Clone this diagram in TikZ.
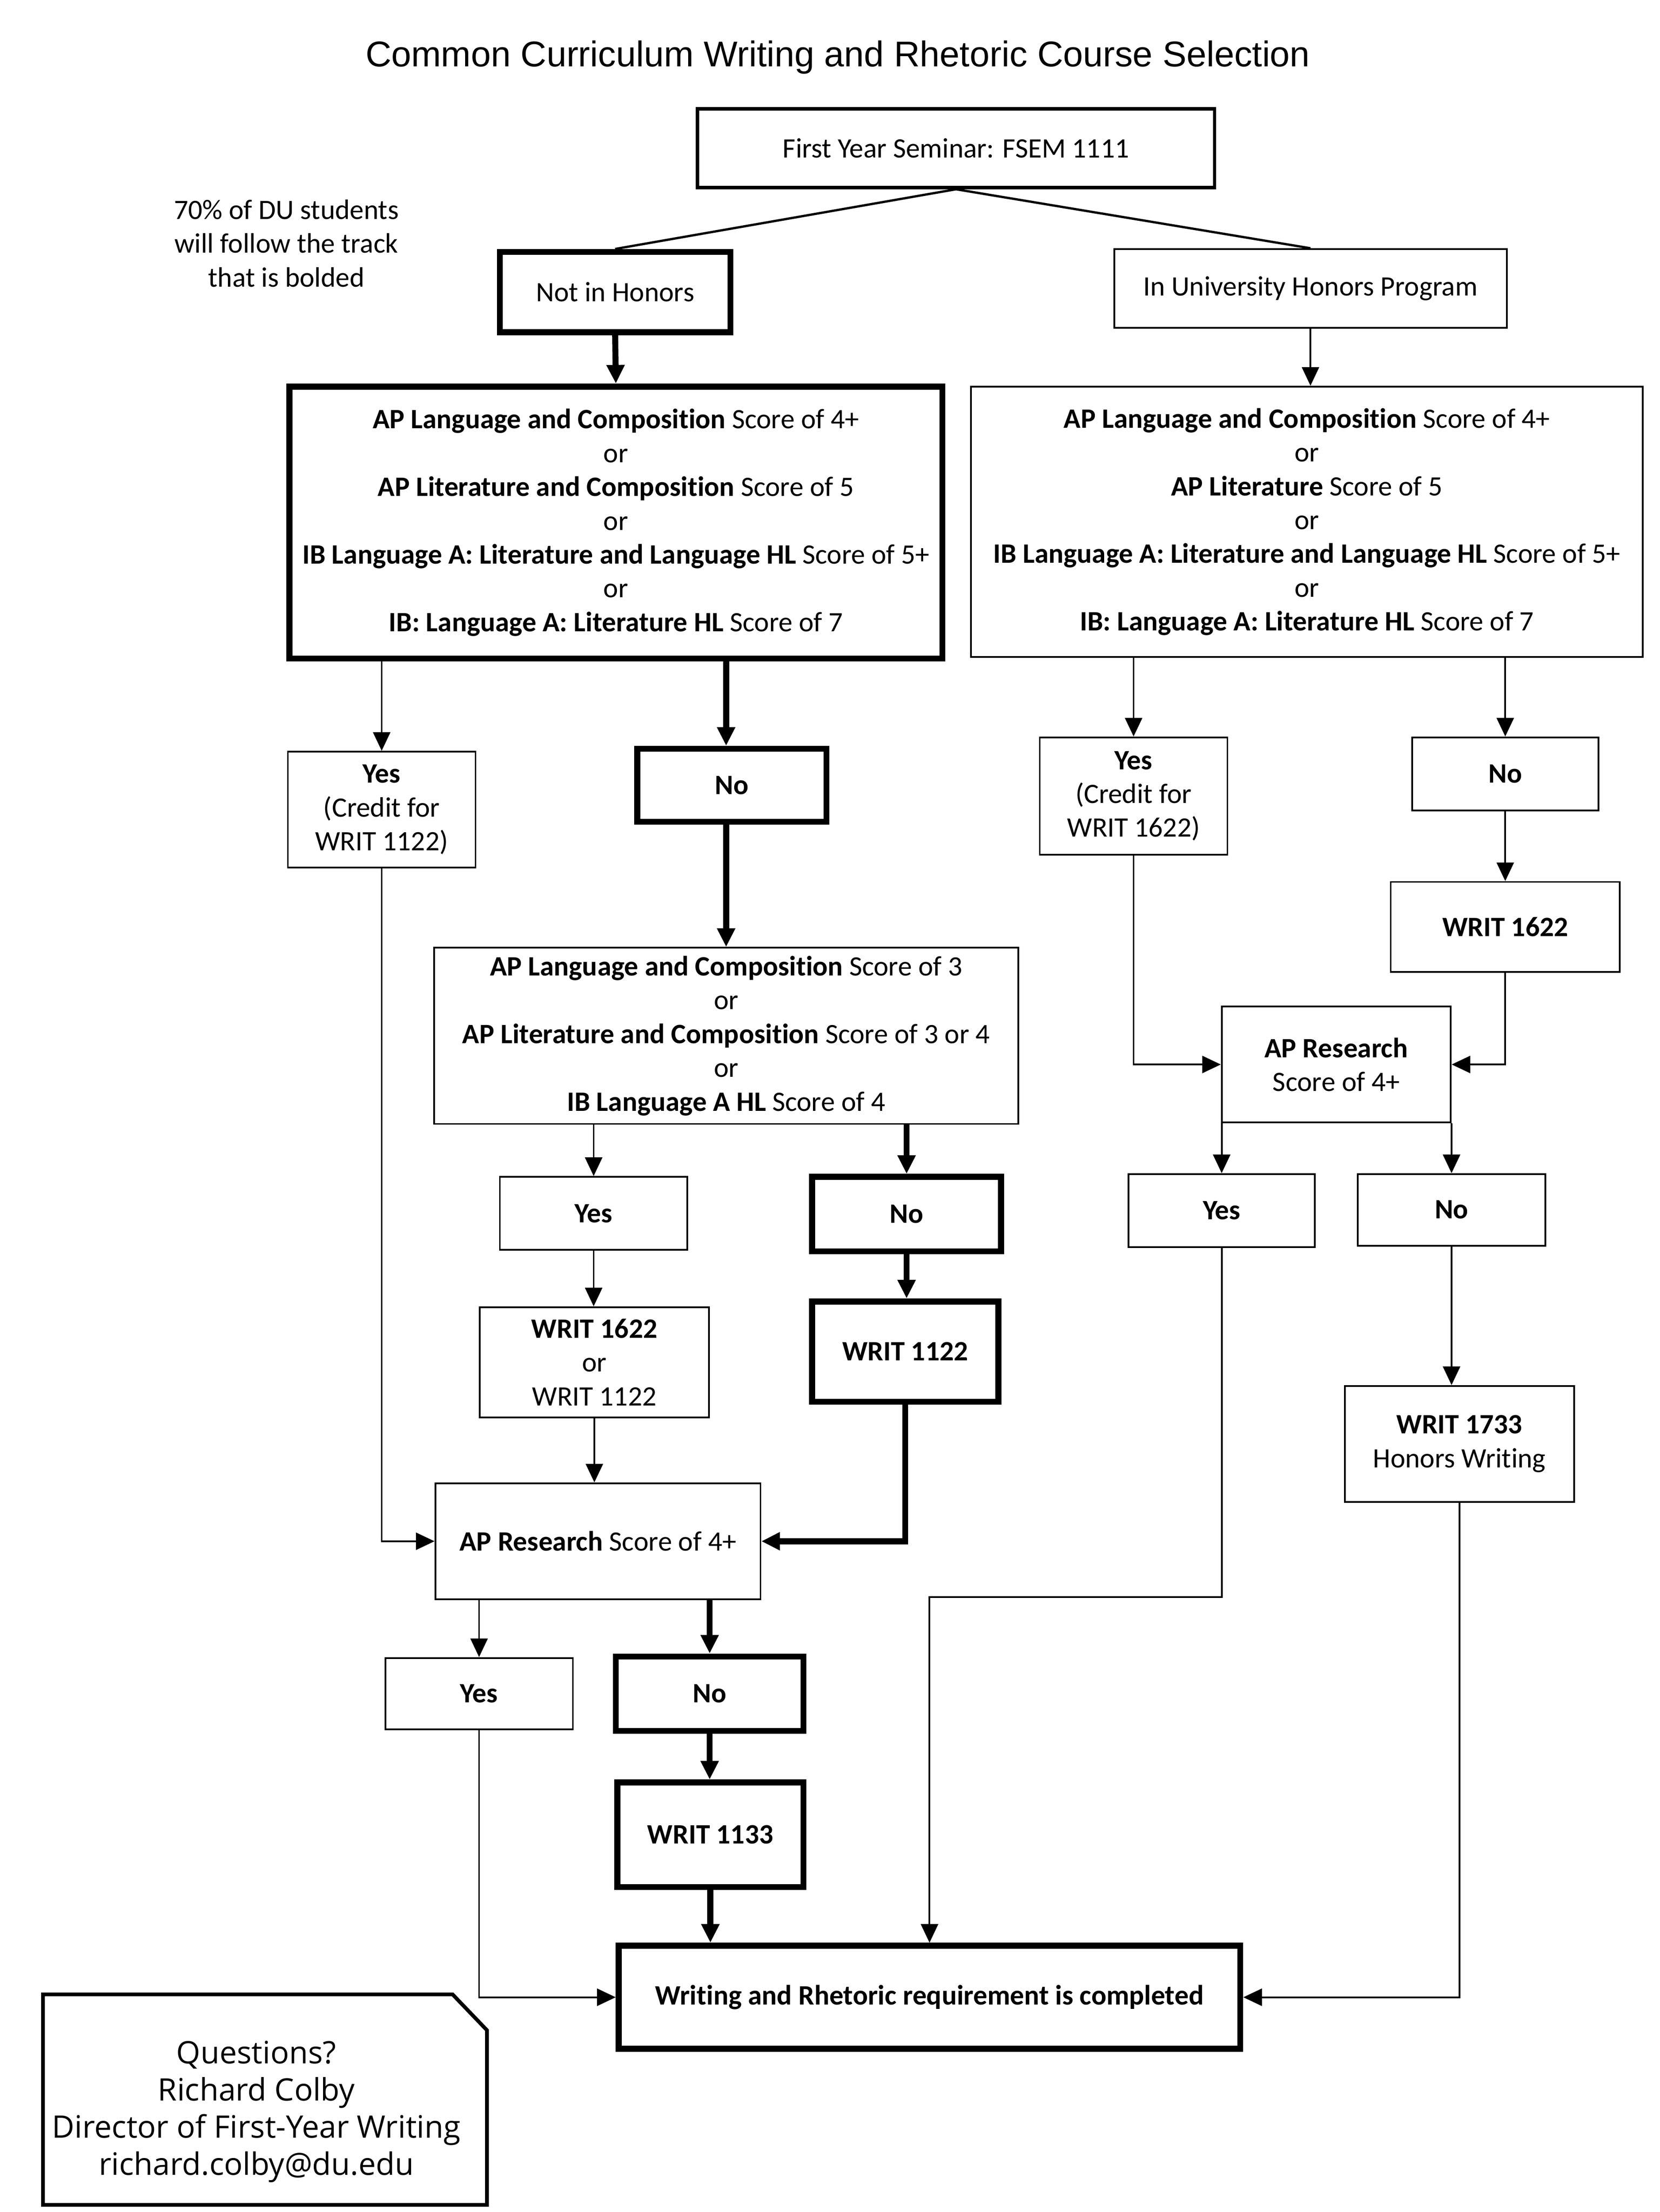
\documentclass[tikz,border=0pt]{standalone}
\usepackage{fontspec}
\setmainfont{Carlito}[Ligatures=NoCommon]
\newfontfamily\titlefont{Liberation Sans}
\newfontfamily\askfont{Open Sans}
\usetikzlibrary{arrows.meta}
\tikzset{
  sz/.style 2 args={minimum width=#1*0.5pt, minimum height=#2*0.5pt},
  box/.style={draw, line width=0.6pt, align=center, inner sep=1pt, font=\fontsize{9.8}{11.8}\selectfont},
  boldbox/.style={box, line width=2.1pt},
  flow/.style={line width=0.6pt, -{Triangle[length=6.5pt,width=6pt]}},
  heavyflow/.style={line width=2.1pt, -{Triangle[length=6.5pt,width=6pt]}},
}

\begin{document}
\begin{tikzpicture}[x=0.5pt, y=-0.5pt]
    \fill[white] (0,0) rectangle (1159,1545);
    \node[font=\titlefont\fontsize{12.5}{14}\selectfont] (title) at (585,40) {Common Curriculum Writing and Rhetoric Course Selection};
    \node[align=center, font=\fontsize{9.8}{11.8}\selectfont] (note) at (200,170) {70\% of DU students\\will follow the track\\that is bolded};

    % top of the tree
    \node[box, line width=1.2pt, sz={361}{55}] (fsem)    at (667.5,103.5) {First Year Seminar: FSEM 1111};
    \node[boldbox, sz={161}{56}]               (nothon)  at (429.5,204)   {Not in Honors};
    \node[box, sz={274}{55}]                   (honors)  at (915,201.5)   {In University Honors Program};

    % left track
    \node[boldbox, sz={456}{190}] (apl) at (430,365) {\textbf{AP Language and Composition} Score of 4+\\or\\\textbf{AP Literature and Composition} Score of 5\\or\\\textbf{IB Language A: Literature and Language HL} Score of 5+\\or\\\textbf{IB: Language A: Literature HL} Score of 7};
    \node[box, sz={131}{81}]      (yesl)   at (266.5,565.5) {\textbf{Yes}\\(Credit for\\WRIT 1122)};
    \node[boldbox, sz={132}{51}]  (nol)    at (511,548.5)   {\textbf{No}};
    \node[box, sz={408}{123}]     (apmid)  at (507,723.5)   {\textbf{AP Language and Composition} Score of 3\\or\\\textbf{AP Literature and Composition} Score of 3 or 4\\or\\\textbf{IB Language A HL} Score of 4};
    \node[box, sz={131}{51}]      (yesm)   at (414.5,847.5) {\textbf{Yes}};
    \node[boldbox, sz={132}{52}]  (nom)    at (633,848)     {\textbf{No}};
    \node[box, sz={160}{77}]      (wor)    at (415,951.5)   {\textbf{WRIT 1622}\\or\\WRIT 1122};
    \node[boldbox, sz={130}{70}]  (w1122)  at (632,944)     {\textbf{WRIT 1122}};
    \node[box, sz={227}{81}]      (apres)  at (417.5,1076.5){\textbf{AP Research} Score of 4+};
    \node[box, sz={131}{50}]      (yesb)   at (334.5,1183)  {\textbf{Yes}};
    \node[boldbox, sz={131}{52}]  (nob)    at (495.5,1183)  {\textbf{No}};
    \node[boldbox, sz={130}{73}]  (w1133)  at (496,1281.5)  {\textbf{WRIT 1133}};

    % honors track
    \node[box, sz={469}{189}] (apr) at (912.5,364.5) {\textbf{AP Language and Composition} Score of 4+\\or\\\textbf{AP Literature} Score of 5\\or\\\textbf{IB Language A: Literature and Language HL} Score of 5+\\or\\\textbf{IB: Language A: Literature HL} Score of 7};
    \node[box, sz={131}{82}]  (yesr)   at (791.5,556)   {\textbf{Yes}\\(Credit for\\WRIT 1622)};
    \node[box, sz={130}{51}]  (nor)    at (1051,540.5)  {\textbf{No}};
    \node[box, sz={160}{63}]  (w1622)  at (1051,647.5)  {\textbf{WRIT 1622}};
    \node[box, sz={160}{81}]  (apresr) at (933,743.5)   {\textbf{AP Research}\\Score of 4+};
    \node[box, sz={130}{51}]  (yesr2)  at (853,845.5)   {\textbf{Yes}};
    \node[box, sz={131}{50}]  (nor2)   at (1013.5,845)  {\textbf{No}};
    \node[box, sz={160}{81}]  (w1733)  at (1019,1008.5) {\textbf{WRIT 1733}\\Honors Writing};

    \node[boldbox, sz={434}{72}] (final) at (649,1395) {\textbf{Writing and Rhetoric requirement is completed}};

    % connectors
    \draw[line width=0.8pt] (fsem.south) -- (nothon.north);
    \draw[line width=0.8pt] (fsem.south) -- (honors.north);
    \draw[heavyflow] (nothon.south) -- (apl.north);
    \draw[flow] (honors.south) -- (honors.south |- apr.north);

    \draw[flow] (yesl.north |- apl.south) -- (yesl.north);
    \draw[heavyflow] (507,0 |- apl.south) -- (507,0 |- nol.north);
    \draw[heavyflow] (507,0 |- nol.south) -- (507,0 |- apmid.north);
    \draw[flow] (yesm.north |- apmid.south) -- (yesm.north);
    \draw[heavyflow] (nom.north |- apmid.south) -- (nom.north);
    \draw[flow] (yesm.south) -- (yesm.south |- wor.north);
    \draw[heavyflow] (nom.south) -- (nom.south |- w1122.north);
    \draw[flow] (wor.south) -- (wor.south |- apres.north);
    \draw[flow] (yesl.south) |- (apres.west);
    \draw[heavyflow] (w1122.south) |- (apres.east);
    \draw[flow] (yesb.north |- apres.south) -- (yesb.north);
    \draw[heavyflow] (nob.north |- apres.south) -- (nob.north);
    \draw[heavyflow] (nob.south) -- (nob.south |- w1133.north);
    \draw[heavyflow] (w1133.south) -- (w1133.south |- final.north);
    \draw[flow] (yesb.south) |- (final.west);

    \draw[flow] (yesr.north |- apr.south) -- (yesr.north);
    \draw[flow] (nor.north |- apr.south) -- (nor.north);
    \draw[flow] (nor.south) -- (w1622.north);
    \draw[flow] (yesr.south) |- (apresr.west);
    \draw[flow] (w1622.south) |- (apresr.east);
    \draw[flow] (yesr2.north |- apresr.south) -- (yesr2.north);
    \draw[flow] (nor2.north |- apresr.south) -- (nor2.north);
    \draw[flow] (nor2.south) -- (nor2.south |- w1733.north);
    \draw[flow] (yesr2.south) -- ++(0,244) -| (final.north);
    \draw[flow] (w1733.south) |- (final.east);

    % contact box with cut corner
    \draw[line width=1.3pt] (30,1393) -- (316,1393) -- (340,1418) -- (340,1540) -- (30,1540) -- cycle;
    \node[align=center, font=\askfont\fontsize{10.8}{13}\selectfont] (ask) at (179,1475)
        {Questions?\\Richard Colby\\Director of First-Year Writing\\richard.colby@du.edu};
\end{tikzpicture}
\end{document}
